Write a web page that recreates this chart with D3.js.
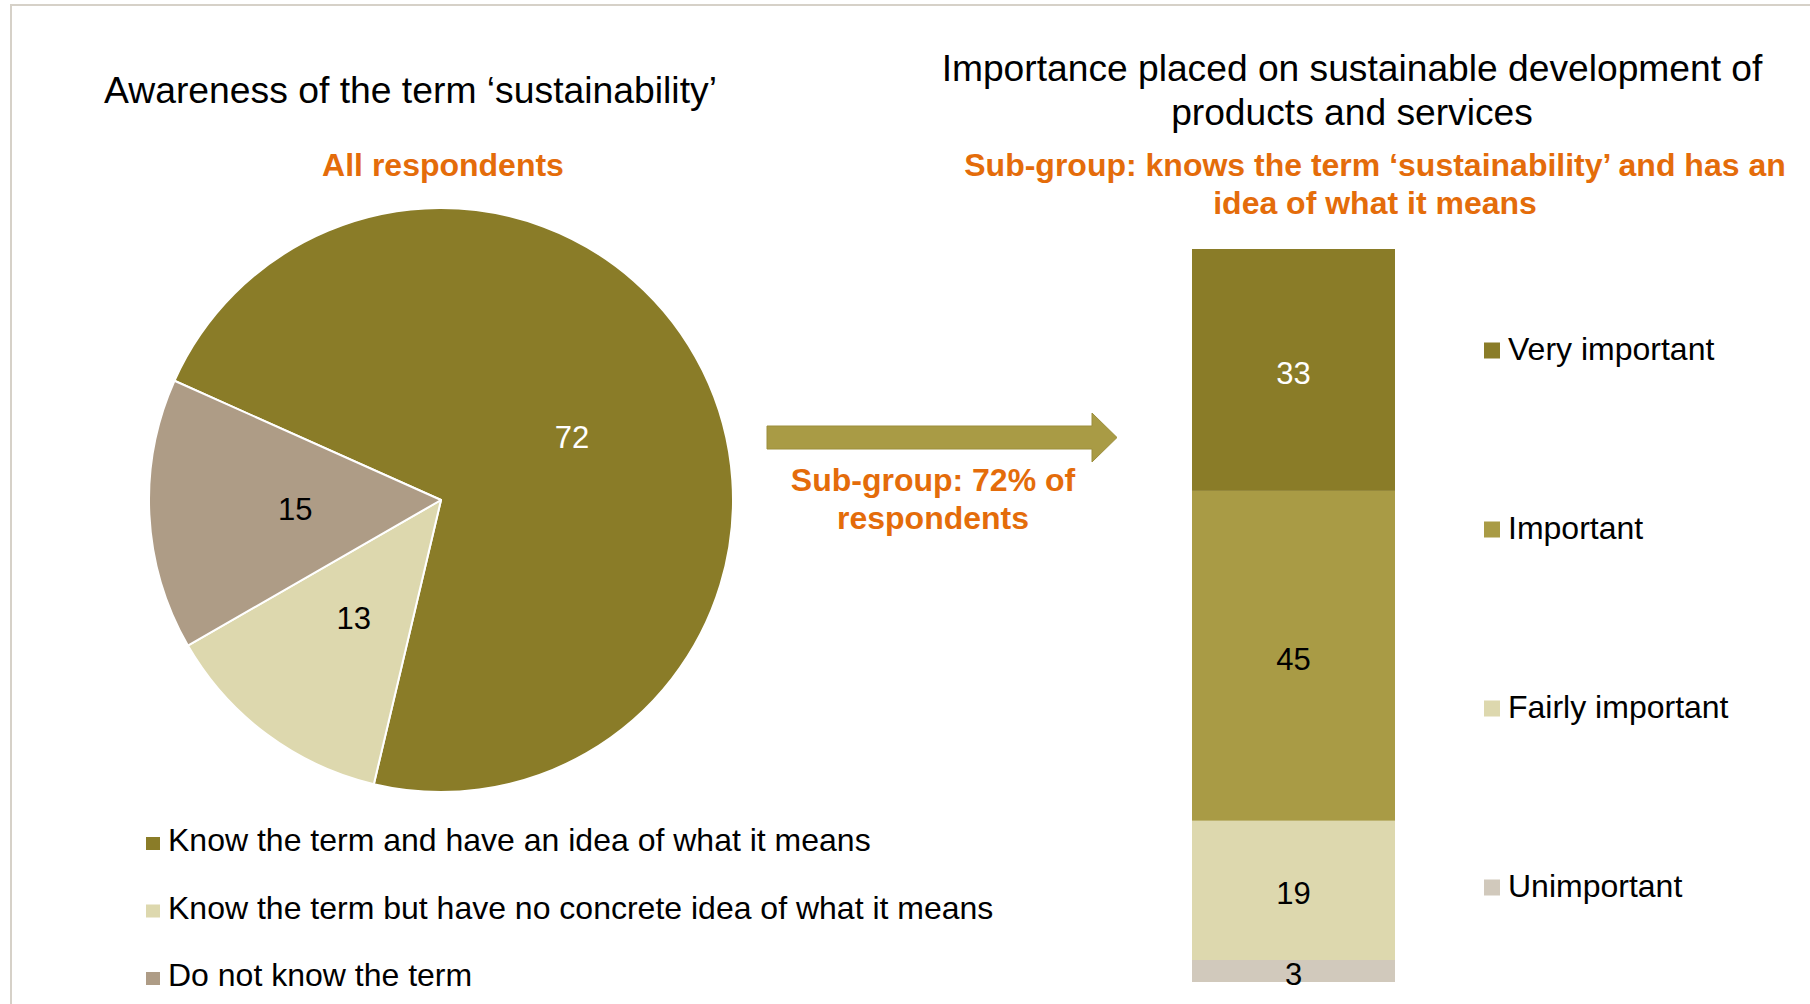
<!DOCTYPE html>
<html>
<head>
<meta charset="utf-8">
<script src="https://cdn.jsdelivr.net/npm/d3@7"></script>
<style>
  html, body { margin: 0; padding: 0; background: #ffffff; }
  svg { display: block; }
  text { font-family: "Liberation Sans", Arial, Helvetica, sans-serif; }
</style>
</head>
<body>
<svg id="chart" width="1810" height="1004"></svg>
<script>
// Awareness of the term 'sustainability' (all respondents, %)
const awarenessLabels = [
  "Know the term and have an idea of what it means",
  "Know the term but have no concrete idea of what it means",
  "Do not know the term"
];
const awarenessValues = [72, 13, 15];
const awarenessColors = ["#8a7c28", "#ddd8ae", "#ae9c86"];
const awarenessTextColors = ["#ffffff", "#000000", "#000000"];

// Importance placed on sustainable development (sub-group, %), top to bottom
const importanceLabels = ["Very important", "Important", "Fairly important", "Unimportant"];
const importanceValues = [33, 45, 19, 3];
const importanceColors = ["#8a7c28", "#a99b45", "#ddd8ae", "#d1c9bc"];
const importanceTextColors = ["#ffffff", "#000000", "#000000", "#000000"];

const subgroupShare = awarenessValues[0];

const orange = "#e46c0a";
const svg = d3.select("#chart");

// slide frame
svg.append("rect")
  .attr("x", 11).attr("y", 5)
  .attr("width", 1830).attr("height", 1030)
  .attr("fill", "none").attr("stroke", "#d6d1c8").attr("stroke-width", 2);

// ---------- Left panel: pie ----------
svg.append("text")
  .attr("x", 104).attr("y", 103)
  .attr("font-size", 37.3).attr("fill", "#000")
  .text("Awareness of the term \u2018sustainability\u2019");

svg.append("text")
  .attr("x", 443).attr("y", 176)
  .attr("text-anchor", "middle")
  .attr("font-size", 32).attr("font-weight", "bold").attr("fill", orange)
  .text("All respondents");

const cx = 441, cy = 500, radius = 292;
const start = -65.9 * Math.PI / 180;
const pie = d3.pie().sort(null).startAngle(start).endAngle(start + 2 * Math.PI);
const arcs = pie(awarenessValues);
const arc = d3.arc().innerRadius(0).outerRadius(radius);
const labelArc = d3.arc().innerRadius(0).outerRadius(radius);

const pieG = svg.append("g").attr("transform", `translate(${cx},${cy})`);
pieG.selectAll("path.slice")
  .data(arcs)
  .join("path")
  .attr("class", "slice")
  .attr("d", arc)
  .attr("fill", (d, i) => awarenessColors[i])
  .attr("stroke", "#ffffff")
  .attr("stroke-width", 2)
  .attr("stroke-linejoin", "round");

pieG.selectAll("text.val")
  .data(arcs)
  .join("text")
  .attr("class", "val")
  .attr("transform", d => `translate(${labelArc.centroid(d)})`)
  .attr("text-anchor", "middle")
  .attr("dy", "0.4em")
  .attr("font-size", 31)
  .attr("fill", (d, i) => awarenessTextColors[i])
  .text(d => d.data);

// left legend
const leftLegend = svg.append("g");
const leftRows = leftLegend.selectAll("g")
  .data(awarenessLabels)
  .join("g")
  .attr("transform", (d, i) => `translate(146, ${851 + i * 67.5})`);
leftRows.append("rect")
  .attr("x", 0).attr("y", -14).attr("width", 14).attr("height", 13)
  .attr("fill", (d, i) => awarenessColors[i]);
leftRows.append("text")
  .attr("x", 22).attr("y", 0)
  .attr("font-size", 32).attr("fill", "#000")
  .text(d => d);

// ---------- Arrow ----------
const arrow = d3.path();
arrow.moveTo(767, 426);
arrow.lineTo(1092, 426);
arrow.lineTo(1092, 413);
arrow.lineTo(1117, 437.5);
arrow.lineTo(1092, 462);
arrow.lineTo(1092, 449);
arrow.lineTo(767, 449);
arrow.closePath();
svg.append("path")
  .attr("d", arrow.toString())
  .attr("fill", "#a99b45")
  .attr("stroke", "#9c8e3c")
  .attr("stroke-width", 1);

const arrowText = svg.append("text")
  .attr("text-anchor", "middle")
  .attr("font-size", 32).attr("font-weight", "bold").attr("fill", orange);
arrowText.append("tspan").attr("x", 933).attr("y", 491).text(`Sub-group: ${subgroupShare}% of`);
arrowText.append("tspan").attr("x", 933).attr("y", 529).text("respondents");

// ---------- Right panel: stacked bar ----------
const rightTitle = svg.append("text")
  .attr("text-anchor", "middle")
  .attr("font-size", 37.2).attr("fill", "#000");
rightTitle.append("tspan").attr("x", 1352).attr("y", 81).text("Importance placed on sustainable development of");
rightTitle.append("tspan").attr("x", 1352).attr("y", 125).text("products and services");

const rightSub = svg.append("text")
  .attr("text-anchor", "middle")
  .attr("font-size", 32).attr("font-weight", "bold").attr("fill", orange);
rightSub.append("tspan").attr("x", 1375).attr("y", 176).text("Sub-group: knows the term \u2018sustainability\u2019 and has an");
rightSub.append("tspan").attr("x", 1375).attr("y", 214).text("idea of what it means");

const y = d3.scaleLinear().domain([0, 100]).range([982, 249]);
const x = d3.scaleBand().domain(["sub-group"]).range([1192, 1395]).padding(0);

// stack from the bottom: last category sits lowest
const segments = [];
let acc = 0;
for (let i = importanceValues.length - 1; i >= 0; i--) {
  segments.push({ i, y0: acc, y1: acc + importanceValues[i], value: importanceValues[i] });
  acc += importanceValues[i];
}

const barG = svg.append("g");
barG.selectAll("rect")
  .data(segments)
  .join("rect")
  .attr("x", x("sub-group"))
  .attr("width", x.bandwidth())
  .attr("y", d => y(d.y1))
  .attr("height", d => y(d.y0) - y(d.y1))
  .attr("fill", d => importanceColors[d.i]);

barG.selectAll("text")
  .data(segments)
  .join("text")
  .attr("x", x("sub-group") + x.bandwidth() / 2)
  .attr("y", d => y((d.y0 + d.y1) / 2))
  .attr("dy", "0.45em")
  .attr("text-anchor", "middle")
  .attr("font-size", 31)
  .attr("fill", d => importanceTextColors[d.i])
  .text(d => d.value);

// right legend
const rightRows = svg.append("g").selectAll("g")
  .data(importanceLabels)
  .join("g")
  .attr("transform", (d, i) => `translate(1484, ${359.5 + i * 179})`);
rightRows.append("rect")
  .attr("x", 0).attr("y", -17).attr("width", 16).attr("height", 16)
  .attr("fill", (d, i) => importanceColors[i]);
rightRows.append("text")
  .attr("x", 24).attr("y", 0)
  .attr("font-size", 32).attr("fill", "#000")
  .text(d => d);
</script>
</body>
</html>
